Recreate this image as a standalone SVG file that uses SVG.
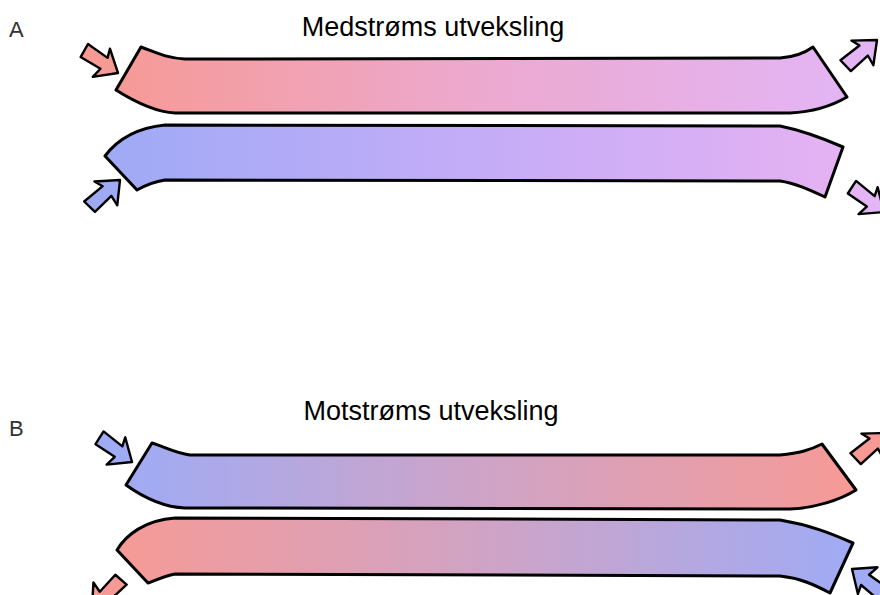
<svg xmlns="http://www.w3.org/2000/svg" width="880" height="595" viewBox="0 0 880 595">
  <style>
    .tube { stroke: #000; stroke-width: 3; stroke-linejoin: round; }
    .arrow { stroke: #000; stroke-width: 2.4; stroke-linejoin: round; }
    .title { font-family: "Liberation Sans", Arial, sans-serif; font-size: 27px; fill: #000; text-anchor: middle; }
    .panel { font-family: "Liberation Sans", Arial, sans-serif; font-size: 22px; fill: #333; }
  </style>
  <defs>
    <linearGradient id="gRedViolet" gradientUnits="userSpaceOnUse" x1="115" y1="0" x2="850" y2="0">
      <stop offset="0" stop-color="#f69a96"/>
      <stop offset="0.5" stop-color="#eca9cf"/>
      <stop offset="1" stop-color="#e3b5f5"/>
    </linearGradient>
    <linearGradient id="gBlueViolet" gradientUnits="userSpaceOnUse" x1="105" y1="0" x2="845" y2="0">
      <stop offset="0" stop-color="#9faaf5"/>
      <stop offset="0.5" stop-color="#c4acf8"/>
      <stop offset="1" stop-color="#e5b2f2"/>
    </linearGradient>
    <linearGradient id="gBlueRed" gradientUnits="userSpaceOnUse" x1="125" y1="0" x2="856" y2="0">
      <stop offset="0" stop-color="#a0abf5"/>
      <stop offset="0.5" stop-color="#cfa3c5"/>
      <stop offset="1" stop-color="#f79a96"/>
    </linearGradient>
    <linearGradient id="gRedBlue" gradientUnits="userSpaceOnUse" x1="117" y1="0" x2="853" y2="0">
      <stop offset="0" stop-color="#f69a96"/>
      <stop offset="0.5" stop-color="#cfa3c5"/>
      <stop offset="1" stop-color="#a0abf5"/>
    </linearGradient>
    <!-- block arrow pointing along +x, tip at the origin -->
    <path id="blockArrow" d="M0,0 L-20,-16 L-17,-7 L-41,-8 L-40,7 L-17,6 L-19,17 Z"/>
  </defs>

  <!-- panel labels and titles -->
  <text class="panel" x="9" y="37">A</text>
  <text class="title" x="433" y="36">Medstrøms utveksling</text>
  <text class="panel" x="9" y="436">B</text>
  <text class="title" x="431" y="420">Motstrøms utveksling</text>

  <!-- A: concurrent exchange -->
  <g id="tubeA1">
    <path class="tube" fill="url(#gRedViolet)" d="M141,47 C155,52 165,58 185,59 L780,58 C796,57 806,52 813,47 L847,97 C830,107 810,112 790,113 L175,113 C155,112 135,102 116,90 Z"/>
  </g>
  <g id="tubeA2">
    <path class="tube" fill="url(#gBlueViolet)" d="M105,156 C117,140 135,128 165,125 L780,126 C800,130 820,137 843,147 L825,197 C810,190 795,183 780,181 L165,180 C152,182 144,186 137,190 Z"/>
  </g>

  <g id="arrowsA">
    <use href="#blockArrow" class="arrow" fill="#f69a96" transform="translate(118,73) rotate(33)"/>
    <use href="#blockArrow" class="arrow" fill="#9faaf5" transform="translate(120,180) rotate(-42)"/>
    <use href="#blockArrow" class="arrow" fill="#e3b5f5" transform="translate(877,40) rotate(-40)"/>
    <use href="#blockArrow" class="arrow" fill="#e3b5f5" transform="translate(884,212) rotate(37)"/>
  </g>

  <!-- B: countercurrent exchange -->
  <g id="tubeB1">
    <path class="tube" fill="url(#gBlueRed)" d="M152,443 C165,447 175,453 190,455 L780,455 C800,453 810,450 822,444 L856,490 C840,500 815,508 790,509 L185,508 C160,507 140,495 126,485 Z"/>
  </g>
  <g id="tubeB2">
    <path class="tube" fill="url(#gRedBlue)" d="M117,550 C126,535 145,520 175,518 L780,520 C810,525 830,533 853,543 L830,593 C815,585 800,578 780,576 L175,574 C165,576 156,580 148,583 Z"/>
  </g>

  <g id="arrowsB">
    <use href="#blockArrow" class="arrow" fill="#a0abf5" transform="translate(132,462) rotate(36)"/>
    <use href="#blockArrow" class="arrow" fill="#f69a96" transform="translate(92,608) rotate(135)"/>
    <use href="#blockArrow" class="arrow" fill="#f79a96" transform="translate(887,433) rotate(-40)"/>
    <use href="#blockArrow" class="arrow" fill="#a0abf5" transform="translate(852,569) rotate(-142)"/>
  </g>
</svg>
